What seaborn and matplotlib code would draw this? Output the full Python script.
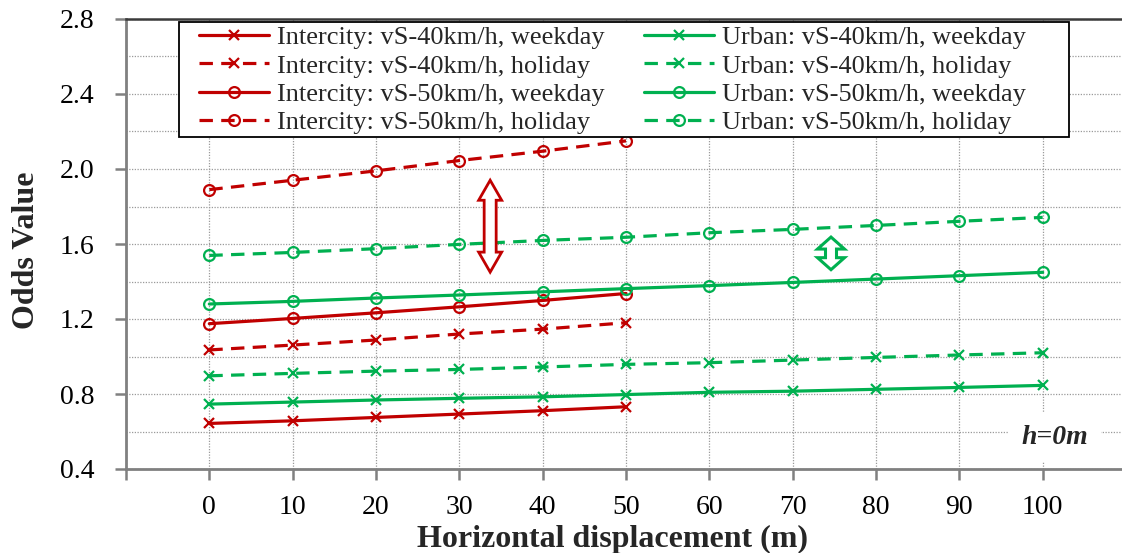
import numpy as np
import pandas as pd
import seaborn as sns
import matplotlib
matplotlib.use("Agg")
import matplotlib.pyplot as plt
from matplotlib.patches import Polygon, Rectangle
from matplotlib.transforms import IdentityTransform
from matplotlib.ticker import MultipleLocator, FormatStrFormatter

# ---- data -------------------------------------------------------------
x_intercity = [0, 10, 20, 30, 40, 50]
x_urban = [0, 10, 20, 30, 40, 50, 60, 70, 80, 90, 100]

intercity_40_weekday = [0.643, 0.657, 0.675, 0.693, 0.711, 0.732]
intercity_40_holiday = [1.035, 1.061, 1.088, 1.120, 1.146, 1.180]
intercity_50_weekday = [1.175, 1.203, 1.233, 1.265, 1.299, 1.336]
intercity_50_holiday = [1.890, 1.940, 1.990, 2.045, 2.095, 2.150]

urban_40_weekday = [0.746, 0.757, 0.768, 0.777, 0.785, 0.797, 0.809, 0.815, 0.825, 0.835, 0.846]
urban_40_holiday = [0.897, 0.910, 0.922, 0.931, 0.944, 0.958, 0.967, 0.981, 0.995, 1.008, 1.020]
urban_50_weekday = [1.280, 1.294, 1.312, 1.328, 1.345, 1.362, 1.378, 1.395, 1.413, 1.431, 1.449]
urban_50_holiday = [1.539, 1.555, 1.575, 1.598, 1.619, 1.636, 1.660, 1.678, 1.699, 1.721, 1.742]

series_names = [
    "Intercity: vS-40km/h, weekday",
    "Intercity: vS-40km/h, holiday",
    "Intercity: vS-50km/h, weekday",
    "Intercity: vS-50km/h, holiday",
    "Urban: vS-40km/h, weekday",
    "Urban: vS-40km/h, holiday",
    "Urban: vS-50km/h, weekday",
    "Urban: vS-50km/h, holiday",
]
series_x = [x_intercity] * 4 + [x_urban] * 4
series_y = [
    intercity_40_weekday, intercity_40_holiday, intercity_50_weekday, intercity_50_holiday,
    urban_40_weekday, urban_40_holiday, urban_50_weekday, urban_50_holiday,
]

x_ticks = [0, 10, 20, 30, 40, 50, 60, 70, 80, 90, 100]

# ---- styling ----------------------------------------------------------
RED = "#C00000"
GREEN = "#00B050"
DASH = (0, (4.2, 2.6))

frames = []
for name, xs, ys in zip(series_names, series_x, series_y):
    frames.append(pd.DataFrame({"series": name, "x": xs, "y": ys}))
df = pd.concat(frames, ignore_index=True)

sns.set_style("white")
plt.rcParams["font.family"] = ["Liberation Serif", "DejaVu Serif"]

W, H = 1122, 553
fig = plt.figure(figsize=(W / 100, H / 100), dpi=100)
# axis runs from x=-10 to x=110; its right end sits at the figure edge
left_px, bottom_px, top_px, right_px = 126, 469, 19, 1126
ax = fig.add_axes([left_px / W, (H - bottom_px) / H,
                   (right_px - left_px) / W, (bottom_px - top_px) / H])

for name in series_names:
    color = RED if name.startswith("Intercity") else GREEN
    ls = "-" if "weekday" in name else DASH
    marker = "x" if "40km" in name else "o"
    sub = df[df["series"] == name]
    sns.lineplot(data=sub, x="x", y="y", ax=ax, color=color, linestyle=ls,
                 linewidth=2.3, marker=marker, markersize=7.8,
                 markeredgewidth=1.6, markerfacecolor="none",
                 markeredgecolor=color, estimator=None, errorbar=None,
                 label=name, zorder=4)

ax.set_xlim(-10, 110)
ax.set_ylim(0.4, 2.8)

ax.set_xticks([-10] + x_ticks)
ax.set_xticklabels([""] + [str(t) for t in x_ticks])
ax.yaxis.set_major_locator(MultipleLocator(0.4))
ax.yaxis.set_minor_locator(MultipleLocator(0.2))
ax.yaxis.set_major_formatter(FormatStrFormatter("%.1f"))

ax.grid(True, axis="x", which="major", color="#9a9a9a", linestyle=(0, (1, 1.2)), linewidth=0.9, zorder=0)
ax.grid(True, axis="y", which="both", color="#9a9a9a", linestyle=(0, (1, 1.2)), linewidth=0.9, zorder=0)
ax.set_axisbelow(True)

ax.tick_params(axis="y", which="major", direction="out", length=8, width=1.8,
               color="#808080", pad=15, labelsize=20, labelcolor="black", left=True)
ax.tick_params(axis="y", which="minor", length=0)
ax.tick_params(axis="x", which="major", direction="out", length=8, width=1.8,
               color="#808080", pad=11, labelsize=20, labelcolor="black", bottom=True)

for side in ("left", "bottom"):
    ax.spines[side].set_color("#808080")
    ax.spines[side].set_linewidth(2.0)
ax.spines["top"].set_color("#3a3a3a")
ax.spines["top"].set_linewidth(1.8)
ax.spines["right"].set_visible(False)

ax.set_xlabel("Horizontal displacement (m)", fontsize=23, fontweight="bold")
ax.set_ylabel("Odds Value", fontsize=23, fontweight="bold")
ax.xaxis.set_label_coords((613 - left_px) / (right_px - left_px),
                          -(525 - bottom_px) / (bottom_px - top_px))
ax.yaxis.set_label_coords(-(left_px - 41) / (right_px - left_px),
                          (bottom_px - 250) / (bottom_px - top_px))

# legend box: white panel with a thin black frame, entries laid on top
ax.add_patch(Rectangle((179 / W, (H - 137) / H), (1069 - 179) / W, (137 - 22) / H,
                       transform=fig.transFigure, facecolor="white",
                       edgecolor="black", linewidth=1.3, zorder=5.9, clip_on=False))
handles, labels = ax.get_legend_handles_labels()
leg = ax.legend(handles, labels, ncol=2, loc="upper left",
                bbox_to_anchor=(195 / W, (H - 22) / H),
                bbox_transform=fig.transFigure,
                borderaxespad=0, fontsize=19, frameon=False,
                handlelength=2.65, handletextpad=0.3, columnspacing=1.5,
                labelspacing=0.18, borderpad=0.15)
leg.set_zorder(6)

ax.text(101.5, 0.57, "h=0m", fontsize=20, fontweight="bold", fontstyle="italic",
        ha="center", va="center", zorder=5,
        bbox=dict(boxstyle="square,pad=0.45", facecolor="white", edgecolor="none"))


def double_arrow(ax, x, y_lo, y_hi, shaft, head, head_len, color, lw):
    """Hollow vertical double-headed arrow between y_lo and y_hi at x."""
    px, p_lo = ax.transData.transform((x, y_lo))
    _, p_hi = ax.transData.transform((x, y_hi))
    s, h = shaft / 2, head / 2
    pts = [(px, p_hi), (px + h, p_hi - head_len), (px + s, p_hi - head_len),
           (px + s, p_lo + head_len), (px + h, p_lo + head_len), (px, p_lo),
           (px - h, p_lo + head_len), (px - s, p_lo + head_len),
           (px - s, p_hi - head_len), (px - h, p_hi - head_len)]
    ax.add_patch(Polygon(pts, closed=True, transform=IdentityTransform(),
                         facecolor="white", edgecolor=color, linewidth=lw,
                         joinstyle="miter", zorder=5))


double_arrow(ax, 33.7, 1.45, 1.94, shaft=12, head=23, head_len=20, color=RED, lw=2.0)
double_arrow(ax, 74.6, 1.463, 1.637, shaft=11, head=27, head_len=12, color=GREEN, lw=2.2)

fig.savefig("out.png", dpi=100)
